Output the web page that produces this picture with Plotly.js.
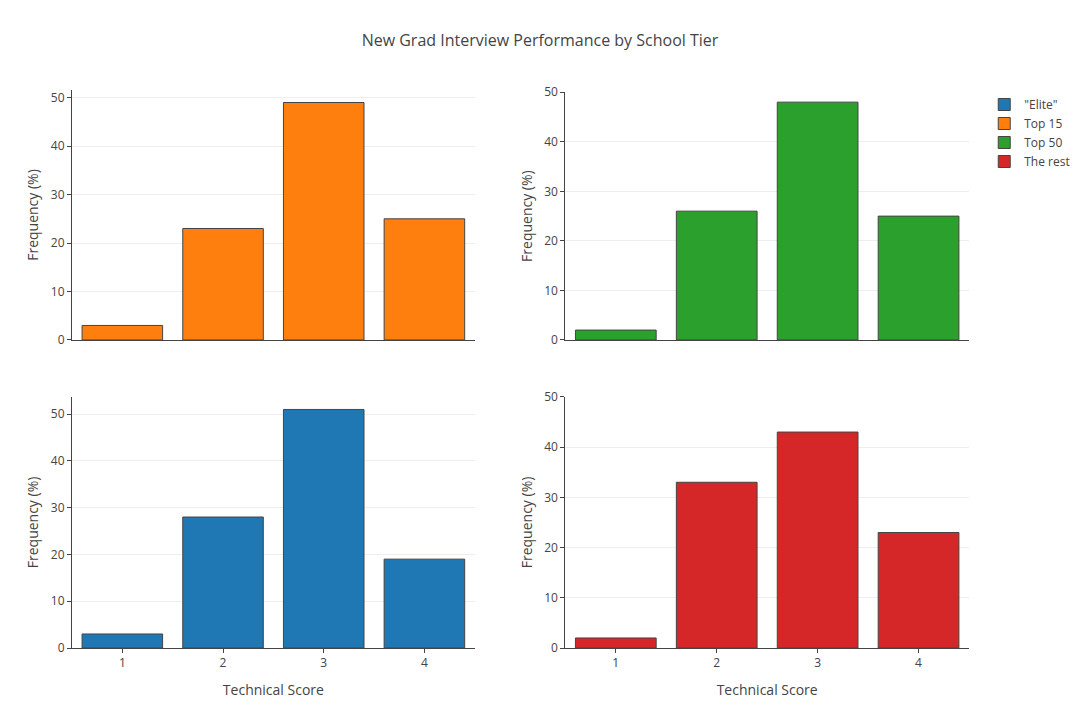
<!DOCTYPE html>
<html>
<head>
<meta charset="utf-8">
<script src="https://cdn.plot.ly/plotly-3.0.1.min.js"></script>
<style>
  body { margin: 0; }
  #chart { width: 1080px; height: 720px; }
</style>
</head>
<body>
<div id="chart"></div>
<script>
const scores = [1, 2, 3, 4]
const tierNames = ['"Elite"', 'Top 15', 'Top 50', 'The rest']
const eliteFreq = [3, 28, 51, 19]
const top15Freq = [3, 23, 49, 25]
const top50Freq = [2, 26, 48, 25]
const restFreq = [2, 33, 43, 23]
const tierColors = ['#1f77b4', '#ff7f0e', '#2ca02c', '#d62728']

// which subplot each tier sits in
const tierAxes = [['x3', 'y3'], ['x', 'y'], ['x2', 'y2'], ['x4', 'y4']]
const tierValues = [eliteFreq, top15Freq, top50Freq, restFreq]

const data = tierNames.map((name, i) => ({
  type: 'bar',
  x: scores,
  y: tierValues[i],
  name: name,
  xaxis: tierAxes[i][0],
  yaxis: tierAxes[i][1],
  width: 0.8,
  marker: { color: tierColors[i], line: { color: '#444', width: 1 } }
}))

const xBase = {
  range: [0.5, 4.5],
  tickvals: scores,
  showline: true,
  linecolor: '#444',
  showgrid: false,
  zeroline: false,
  ticks: '',
  tickfont: { size: 12, color: '#444' }
}
const yBase = {
  showline: true,
  linecolor: '#444',
  ticks: 'outside',
  ticklen: 4,
  tickcolor: '#444',
  gridcolor: '#eee',
  zeroline: false,
  dtick: 10,
  tickfont: { size: 12, color: '#444' },
  title: { text: 'Frequency (%)', font: { size: 14, color: '#444' }, standoff: 8 }
}
const xTitle = { text: 'Technical Score', font: { size: 14, color: '#444' }, standoff: 14 }

const layout = {
  width: 1080,
  height: 720,
  font: { family: '"Open Sans", sans-serif', color: '#444' },
  title: { text: 'New Grad Interview Performance by School Tier', font: { size: 16 }, y: 0.944, yanchor: 'middle' },
  margin: { l: 72, r: 111, t: 90, b: 72, autoexpand: false },
  showlegend: true,
  legend: { x: 1.017, y: 1, font: { size: 12 } },
  bargap: 0.2,
  xaxis: Object.assign({}, xBase, { domain: [0, 0.449], anchor: 'y', showticklabels: false }),
  yaxis: Object.assign({}, yBase, { domain: [0.552, 1], anchor: 'x', autorange: true }),
  xaxis2: Object.assign({}, xBase, { domain: [0.55, 1], anchor: 'y2', showticklabels: false }),
  yaxis2: Object.assign({}, yBase, { domain: [0.552, 0.996], anchor: 'x2', range: [0, 50] }),
  xaxis3: Object.assign({}, xBase, { domain: [0, 0.449], anchor: 'y3', title: xTitle, ticks: 'outside', ticklen: 4, tickcolor: '#444' }),
  yaxis3: Object.assign({}, yBase, { domain: [0, 0.45], anchor: 'x3', autorange: true }),
  xaxis4: Object.assign({}, xBase, { domain: [0.55, 1], anchor: 'y4', title: xTitle, ticks: 'outside', ticklen: 4, tickcolor: '#444' }),
  yaxis4: Object.assign({}, yBase, { domain: [0, 0.45], anchor: 'x4', range: [0, 50] }),
  plot_bgcolor: '#fff',
  paper_bgcolor: '#fff'
}

Plotly.newPlot('chart', data, layout, { displayModeBar: false })
</script>
</body>
</html>
